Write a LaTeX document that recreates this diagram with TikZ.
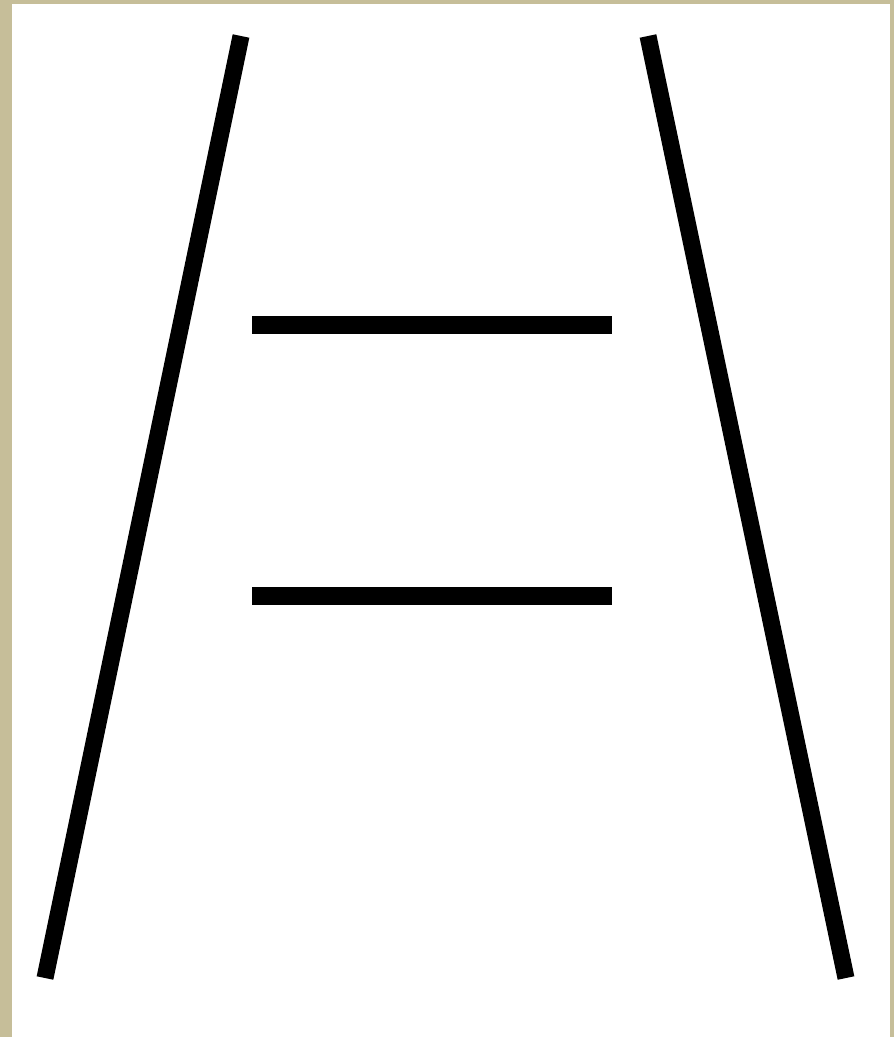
\documentclass[tikz,border=0pt]{standalone}
\usepackage{tikz}
\usetikzlibrary{positioning}
\definecolor{frame}{RGB}{198,190,153}
\tikzset{rail/.style={draw,black,line width=0.34cm},
    rung/.style={draw,black,line width=0.36cm}}

\begin{document}
\begin{tikzpicture}[x=0.02cm,y=-0.02cm]
    % Frame and background
    \fill[frame] (0,0) rectangle (894,1037);
    \fill[white] (12,4) rectangle (890,1037);
    \useasboundingbox (0,0) rectangle (894,1037);

    % Converging rails
    \coordinate (lt) at (241,36);
    \coordinate (lb) at (45,978);
    \coordinate (rt) at (648,36);
    \coordinate (rb) at (846,978);
    \draw[rail] (lt) -- (lb);
    \draw[rail] (rt) -- (rb);

    % Two equal bars
    \coordinate (ua) at (252,325);
    \coordinate (ub) at (612,325);
    \coordinate (da) at (252,596);
    \coordinate (db) at (612,596);
    \draw[rung] (ua) -- (ub);
    \draw[rung] (da) -- (db);
\end{tikzpicture}
\end{document}
